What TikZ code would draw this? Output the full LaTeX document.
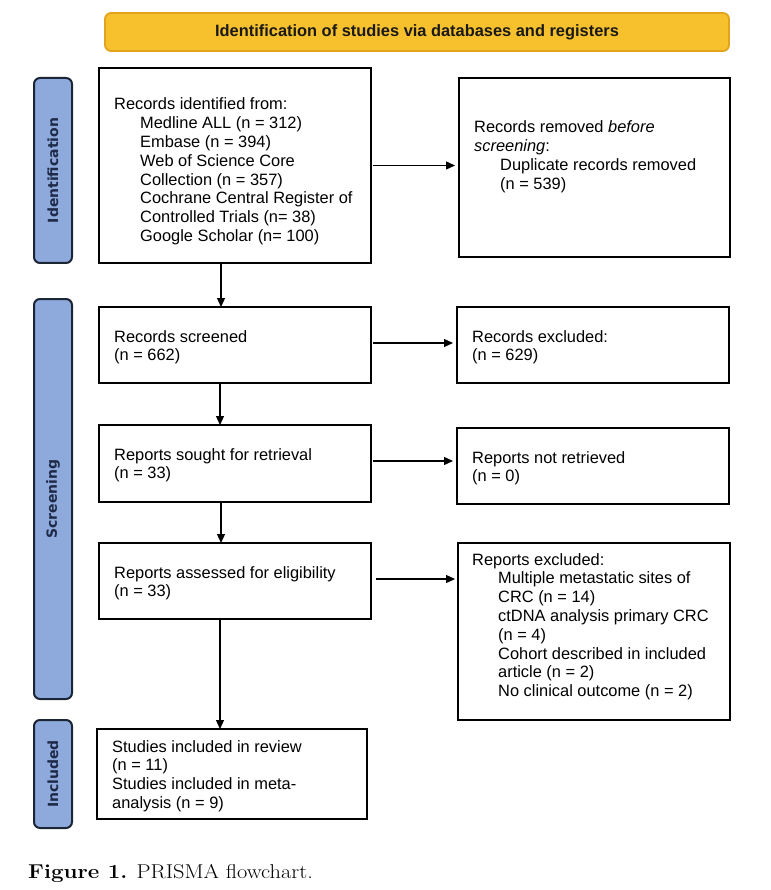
\documentclass[tikz,border=0pt]{standalone}
\usepackage{fontspec}
\setsansfont{Liberation Sans}
\newfontfamily\barfont{DejaVu Sans}
\usetikzlibrary{arrows.meta}
\definecolor{hdrfill}{HTML}{F7C12E}
\definecolor{hdrline}{HTML}{E2A31C}
\definecolor{barfill}{HTML}{8EA9DB}
\definecolor{barline}{HTML}{1C2536}
\definecolor{bartext}{HTML}{1F2A48}
\begin{document}
\begin{tikzpicture}[x=1pt,y=-1pt,
  box/.style={draw=black,line width=2pt,inner sep=0pt,outer sep=0pt},
  bar/.style={draw=barline,fill=barfill,line width=2pt,rounded corners=6pt,inner sep=0pt,minimum width=38pt},
  bartxt/.style={rotate=90,text=bartext,font=\barfont\bfseries\fontsize{14}{16}\selectfont,inner sep=0pt},
  txt/.style={anchor=base west,inner sep=0pt,font=\sffamily\fontsize{16.4}{18.8}\selectfont},
  arr/.style={line width=1.3pt,-{Triangle[length=9pt,width=8pt]}},
]
\useasboundingbox (0,0) rectangle (770,890);
\newcommand{\ind}{\hspace*{26pt}}

% header
\node[draw=hdrline,fill=hdrfill,line width=1.8pt,rounded corners=6pt,minimum width=624pt,minimum height=38pt,
  font=\sffamily\bfseries\fontsize{16.4}{19}\selectfont,text=black!90] (hdr) at (417,32)
  {Identification of studies via databases and registers};

% side bars
\node[bar,minimum height=185pt] (barI) at (53,170.5) {};
\node[bartxt] (barItxt) at (barI) {Identification};
\node[bar,minimum height=400pt] (barS) at (53,499) {};
\node[bartxt] (barStxt) at (barS) {Screening};
\node[bar,minimum height=108pt] (barN) at (53,774) {};
\node[bartxt] (barNtxt) at (barN) {Included};

% boxes
\node[box,minimum width=272pt,minimum height=195pt] (b1) at (235,165.5) {};
\node[box,minimum width=271pt,minimum height=179pt] (b2) at (594.5,167.5) {};
\node[box,minimum width=272pt,minimum height=76pt] (b3) at (235,345) {};
\node[box,minimum width=272pt,minimum height=76pt] (b4) at (593,345) {};
\node[box,minimum width=272pt,minimum height=77pt] (b5) at (235,463.5) {};
\node[box,minimum width=272pt,minimum height=76pt] (b6) at (593,466) {};
\node[box,minimum width=272pt,minimum height=76pt] (b7) at (235,581) {};
\node[box,minimum width=272pt,minimum height=177pt] (b8) at (594,631.5) {};
\node[box,minimum width=270pt,minimum height=90pt] (b9) at (232,774) {};

% texts
\node[txt] (t1) at (114,110) {\parbox[t]{250pt}{\raggedright Records identified from:\\
\ind Medline ALL (n = 312)\\
\ind Embase (n = 394)\\
\ind Web of Science Core\\
\ind Collection (n = 357)\\
\ind Cochrane Central Register of\\
\ind Controlled Trials (n= 38)\\
\ind Google Scholar (n= 100)}};
\node[txt] (t2) at (474,133) {\parbox[t]{250pt}{\raggedright Records removed \textit{before}\\
\textit{screening}:\\
\ind Duplicate records removed\\
\ind (n = 539)}};
\node[txt] (t3) at (114,342) {\parbox[t]{250pt}{\raggedright Records screened\\(n = 662)}};
\node[txt] (t4) at (472,342) {\parbox[t]{250pt}{\raggedright Records excluded:\\(n = 629)}};
\node[txt] (t5) at (114,460) {\parbox[t]{250pt}{\raggedright Reports sought for retrieval\\(n = 33)}};
\node[txt] (t6) at (472,463) {\parbox[t]{250pt}{\raggedright Reports not retrieved\\(n = 0)}};
\node[txt] (t7) at (114,578) {\parbox[t]{250pt}{\raggedright Reports assessed for eligibility\\(n = 33)}};
\node[txt] (t8) at (472,565) {\parbox[t]{250pt}{\raggedright Reports excluded:\\
\ind Multiple metastatic sites of\\
\ind CRC (n = 14)\\
\ind ctDNA analysis primary CRC\\
\ind (n = 4)\\
\ind Cohort described in included\\
\ind article (n = 2)\\
\ind No clinical outcome (n = 2)}};
\node[txt] (t9) at (112,752) {\parbox[t]{250pt}{\raggedright Studies included in review\\
(n = 11)\\
Studies included in meta-\\
analysis (n = 9)}};

% arrows
\draw[arr] ([xshift=2pt]b1.east) -- ([xshift=-4pt]b1.east -| b2.west);
\draw[arr] ([xshift=2pt,yshift=2pt]b3.east) -- ([xshift=-4pt,yshift=2pt]b3.east -| b4.west);
\draw[arr] ([xshift=2pt,yshift=2.5pt]b5.east) -- ([xshift=-4pt,yshift=2.5pt]b5.east -| b6.west);
\draw[arr] ([xshift=5pt,yshift=2pt]b7.east) -- ([xshift=-3pt,yshift=2pt]b7.east -| b8.west);
\draw[arr] ([xshift=-14pt]b1.south) -- ([xshift=-14pt]b1.south |- b3.north);
\draw[arr] ([xshift=-15pt]b3.south) -- ([xshift=-15pt]b3.south |- b5.north);
\draw[arr] ([xshift=-14pt]b5.south) -- ([xshift=-14pt]b5.south |- b7.north);
\draw[arr] ([xshift=-15pt]b7.south) -- ([xshift=-15pt]b7.south |- b9.north);

% caption
\node[anchor=base west,inner sep=0pt,font=\fontsize{20}{23}\selectfont,xscale=1.12,transform shape] (cap) at (28,878)
  {\textbf{Figure 1.} PRISMA flowchart.};
\end{tikzpicture}
\end{document}
